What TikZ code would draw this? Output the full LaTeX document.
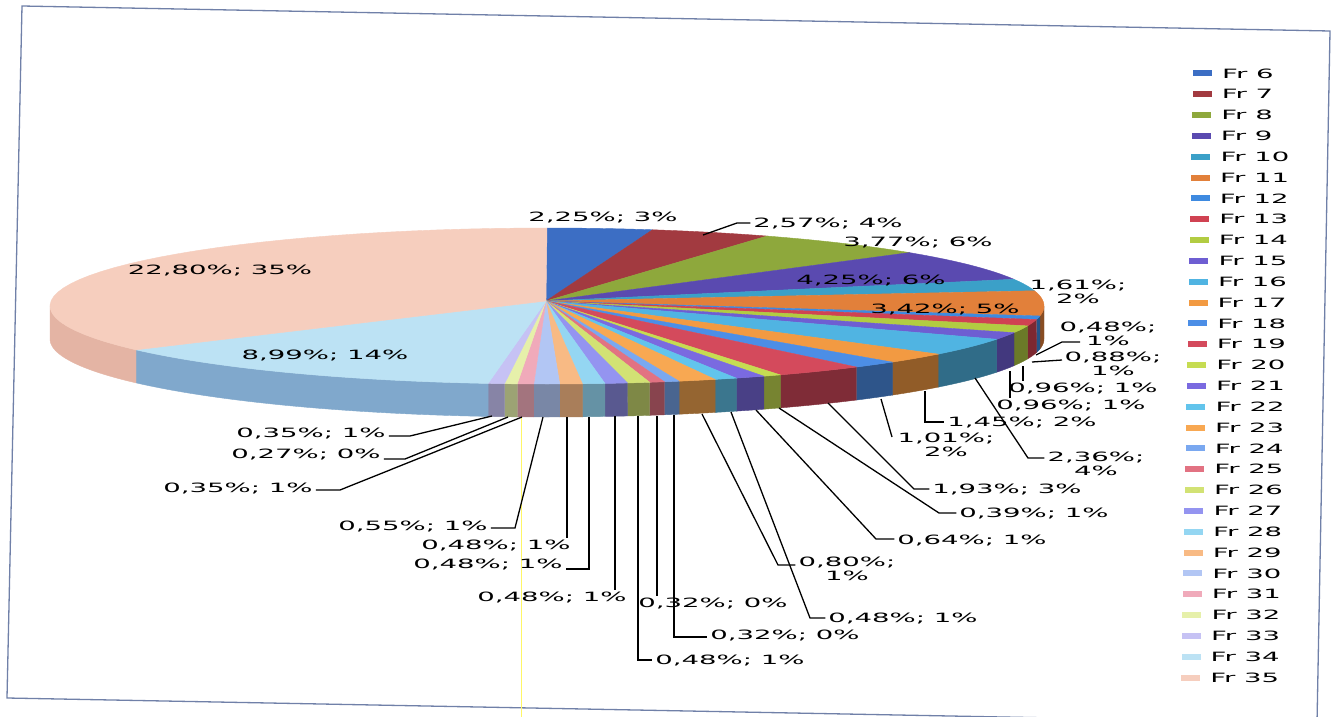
\documentclass[tikz,border=0pt]{standalone}
\usepackage{fontspec}
\newfontfamily\lblfont[FakeStretch=2.15]{DejaVu Sans}
\definecolor{c6}{HTML}{3C6EC4}
\definecolor{c7}{HTML}{A23A40}
\definecolor{c8}{HTML}{8EA83C}
\definecolor{c9}{HTML}{5A4AB0}
\definecolor{c10}{HTML}{3BA0C8}
\definecolor{c11}{HTML}{E2803A}
\definecolor{c12}{HTML}{3E8AE0}
\definecolor{c13}{HTML}{D04252}
\definecolor{c14}{HTML}{B2CC42}
\definecolor{c15}{HTML}{6E5ED2}
\definecolor{c16}{HTML}{50B4E2}
\definecolor{c17}{HTML}{F29A42}
\definecolor{c18}{HTML}{4C8EE6}
\definecolor{c19}{HTML}{D44A5C}
\definecolor{c20}{HTML}{C6DC52}
\definecolor{c21}{HTML}{7A6AE0}
\definecolor{c22}{HTML}{62C4EC}
\definecolor{c23}{HTML}{F8A852}
\definecolor{c24}{HTML}{7AA8F0}
\definecolor{c25}{HTML}{E27282}
\definecolor{c26}{HTML}{D2E274}
\definecolor{c27}{HTML}{9494F0}
\definecolor{c28}{HTML}{94D6F2}
\definecolor{c29}{HTML}{F8BA84}
\definecolor{c30}{HTML}{B2C6F4}
\definecolor{c31}{HTML}{F0AABA}
\definecolor{c32}{HTML}{E6F0AA}
\definecolor{c33}{HTML}{C6C2F4}
\definecolor{c34}{HTML}{BCE2F4}
\definecolor{c35}{HTML}{F6CEBE}
\definecolor{sd34}{HTML}{80A8CC}
\definecolor{sd35}{HTML}{E4B4A4}
\definecolor{framec}{HTML}{7080A8}
\tikzset{
  lbl/.style={font={\lblfont\fontsize{12.8}{14}\selectfont}, text=black, inner xsep=3pt, inner ysep=1pt, align=center},
  lead/.style={draw=black, line width=1.3pt, line join=miter},
  framebox/.style={draw=framec, line width=1.3pt},
}
\begin{document}
\begin{tikzpicture}[x=1pt,y=-1pt]
\useasboundingbox (0,0) rectangle (1336,717);
\fill[white] (0,0) rectangle (1336,717);
\clip (0,0) rectangle (1336,717);
\draw[framebox] (22,6) -- (1330,31) -- (1317,723) -- (7,698) -- cycle;
\draw[yellow!60!white, line width=0.8pt] (521,418) -- (521,717);
% sides of the pie
\foreach \a/\b/\c in {90/97.355/c11!60!black, 97.355/99.970/c12!60!black, 99.970/104.764/c13!60!black, 104.764/109.994/c14!60!black, 109.994/115.224/c15!60!black, 115.224/128.081/c16!60!black, 128.081/135.981/c17!60!black, 135.981/141.483/c18!60!black, 141.483/151.998/c19!60!black, 151.998/154.123/c20!60!black, 154.123/157.610/c21!60!black, 157.610/160.225/c22!60!black, 160.225/164.583/c23!60!black, 164.583/166.326/c24!60!black, 166.326/168.069/c25!60!black, 168.069/170.684/c26!60!black, 170.684/173.299/c27!60!black, 173.299/175.914/c28!68!black, 175.914/178.529/c29!68!black, 178.529/181.525/c30!68!black, 181.525/183.432/c31!68!black, 183.432/184.903/c32!68!black, 184.903/186.810/c33!68!black, 186.810/235.787/sd34, 235.787/270/sd35}{
  \filldraw[fill=\c, draw=\c, line width=0.4pt] plot[domain=\a:\b, samples=30, variable=\t] ({547+497*sin(\t)},{306-78*cos(\t)}) -- plot[domain=\b:\a, samples=30, variable=\t] ({547+497*sin(\t)},{339-78*cos(\t)}) -- cycle;
}
% top faces
\foreach \a/\b/\c in {0/12.258/c6, 12.258/26.259/c7, 26.259/46.798/c8, 46.798/69.952/c9, 69.952/78.723/c10, 78.723/97.355/c11, 97.355/99.970/c12, 99.970/104.764/c13, 104.764/109.994/c14, 109.994/115.224/c15, 115.224/128.081/c16, 128.081/135.981/c17, 135.981/141.483/c18, 141.483/151.998/c19, 151.998/154.123/c20, 154.123/157.610/c21, 157.610/160.225/c22, 160.225/164.583/c23, 164.583/166.326/c24, 166.326/168.069/c25, 168.069/170.684/c26, 170.684/173.299/c27, 173.299/175.914/c28, 175.914/178.529/c29, 178.529/181.525/c30, 181.525/183.432/c31, 183.432/184.903/c32, 184.903/186.810/c33, 186.810/235.787/c34, 235.787/360/c35}{
  \filldraw[fill=\c, draw=\c, line width=0.4pt] (546,301) -- plot[domain=\a:\b, samples=40, variable=\t] ({547+497*sin(\t)},{306-78*cos(\t)}) -- cycle;
}
% labels
\node[lbl] (l6) at (603,217) {2,25\%; 3\%};
\node[lbl] (l7) at (828,223) {2,57\%; 4\%};
\node[lbl] (l8) at (918,242) {3,77\%; 6\%};
\node[lbl] (l9) at (871,280) {4,25\%; 6\%};
\node[lbl] (l10) at (1078,292) {1,61\%;\\2\%};
\node[lbl] (l11) at (945,309) {3,42\%; 5\%};
\node[lbl] (l12) at (1108,334) {0,48\%;\\1\%};
\node[lbl] (l13) at (1113,364) {0,88\%;\\1\%};
\node[lbl] (l14) at (1083,388) {0,96\%; 1\%};
\node[lbl] (l15) at (1071,405) {0,96\%; 1\%};
\node[lbl] (l16) at (1096,464) {2,36\%;\\4\%};
\node[lbl] (l17) at (1022,422) {1,45\%; 2\%};
\node[lbl] (l18) at (946,445) {1,01\%;\\2\%};
\node[lbl] (l19) at (1007,489) {1,93\%; 3\%};
\node[lbl] (l20) at (1034,513) {0,39\%; 1\%};
\node[lbl] (l21) at (972,540) {0,64\%; 1\%};
\node[lbl] (l22) at (903,618) {0,48\%; 1\%};
\node[lbl] (l23) at (847,569) {0,80\%;\\1\%};
\node[lbl] (l24) at (785,635) {0,32\%; 0\%};
\node[lbl] (l25) at (713,603) {0,32\%; 0\%};
\node[lbl] (l26) at (730,660) {0,48\%; 1\%};
\node[lbl] (l27) at (552,597) {0,48\%; 1\%};
\node[lbl] (l28) at (488,564) {0,48\%; 1\%};
\node[lbl] (l29) at (496,545) {0,48\%; 1\%};
\node[lbl] (l30) at (413,526) {0,55\%; 1\%};
\node[lbl] (l31) at (238,488) {0,35\%; 1\%};
\node[lbl] (l32) at (306,454) {0,27\%; 0\%};
\node[lbl] (l33) at (311,433) {0,35\%; 1\%};
\node[lbl] (l34) at (325,355) {8,99\%; 14\%};
\node[lbl] (l35) at (220,270) {22,80\%; 35\%};
% leader line points
\coordinate (s7) at (703,235); \coordinate (b7) at (737,223);
\coordinate (s12) at (1036,355); \coordinate (b12) at (1062,342); \coordinate (e12) at (1080,342);
\coordinate (s13) at (1032,362); \coordinate (e13) at (1062,360);
\coordinate (s14) at (1023,366);
\coordinate (s15) at (1010,371);
\coordinate (s16) at (975,378); \coordinate (b16) at (1028,458);
\coordinate (s17) at (925,391); \coordinate (b17) at (925,422);
\coordinate (s18) at (881,399); \coordinate (e18) at (892,437);
\coordinate (s19) at (828,403); \coordinate (b19) at (914,489);
\coordinate (s20) at (779,408); \coordinate (b20) at (939,513);
\coordinate (s21) at (756,410); \coordinate (b21) at (876,539);
\coordinate (s22) at (731,412); \coordinate (b22) at (810,618);
\coordinate (s23) at (702,414); \coordinate (b23) at (778,565);
\coordinate (s24) at (674,415); \coordinate (b24) at (674,637);
\coordinate (s25) at (657,416);
\coordinate (s26) at (638,416); \coordinate (b26) at (638,660);
\coordinate (s27) at (615,416);
\coordinate (s28) at (589,417); \coordinate (b28) at (589,569);
\coordinate (s29) at (567,417);
\coordinate (s30) at (543,417); \coordinate (b30) at (515,528);
\coordinate (s31) at (522,417); \coordinate (b31) at (340,490);
\coordinate (s32) at (508,417); \coordinate (b32) at (405,459);
\coordinate (s33) at (492,416); \coordinate (b33) at (410,436);
% leader lines
\draw[lead] (s7) -- (b7) -- (l7.west |- b7);
\draw[lead] (s12) -- (b12) -- (e12);
\draw[lead] (s13) -- (e13);
\draw[lead] (s14) -- (s14 |- l14.north);
\draw[lead] (s15) -- (s15 |- l15.north);
\draw[lead] (s16) -- (b16) -- (l16.west |- b16);
\draw[lead] (s17) -- (b17) -- (l17.west |- b17);
\draw[lead] (s18) -- (e18);
\draw[lead] (s19) -- (b19) -- (l19.west |- b19);
\draw[lead] (s20) -- (b20) -- (l20.west |- b20);
\draw[lead] (s21) -- (b21) -- (l21.west |- b21);
\draw[lead] (s22) -- (b22) -- (l22.west |- b22);
\draw[lead] (s23) -- (b23) -- (l23.west |- b23);
\draw[lead] (s24) -- (b24) -- (l24.west |- b24);
\draw[lead] (s25) -- (s25 |- l25.north);
\draw[lead] (s26) -- (b26) -- (l26.west |- b26);
\draw[lead] (s27) -- (s27 |- l27.north);
\draw[lead] (s28) -- (b28) -- (l28.east |- b28);
\draw[lead] (s29) -- (s29 |- l29.north);
\draw[lead] (s30) -- (b30) -- (l30.east |- b30);
\draw[lead] (s31) -- (b31) -- (l31.east |- b31);
\draw[lead] (s32) -- (b32) -- (l32.east |- b32);
\draw[lead] (s33) -- (b33) -- (l33.east |- b33);
% legend
\foreach \i in {0,...,29}{
  \pgfmathtruncatemacro\n{\i+6}
  \pgfmathsetmacro\yy{73.5+20.83*\i}
  \pgfmathsetmacro\xx{1193-0.41*\i}
  \fill[c\n] (\xx,\yy-3) rectangle ++(19,6);
  \node[lbl, anchor=west, inner xsep=0pt] (leg\n) at (\xx+29,\yy) {Fr \n};
}
\end{tikzpicture}
\end{document}
